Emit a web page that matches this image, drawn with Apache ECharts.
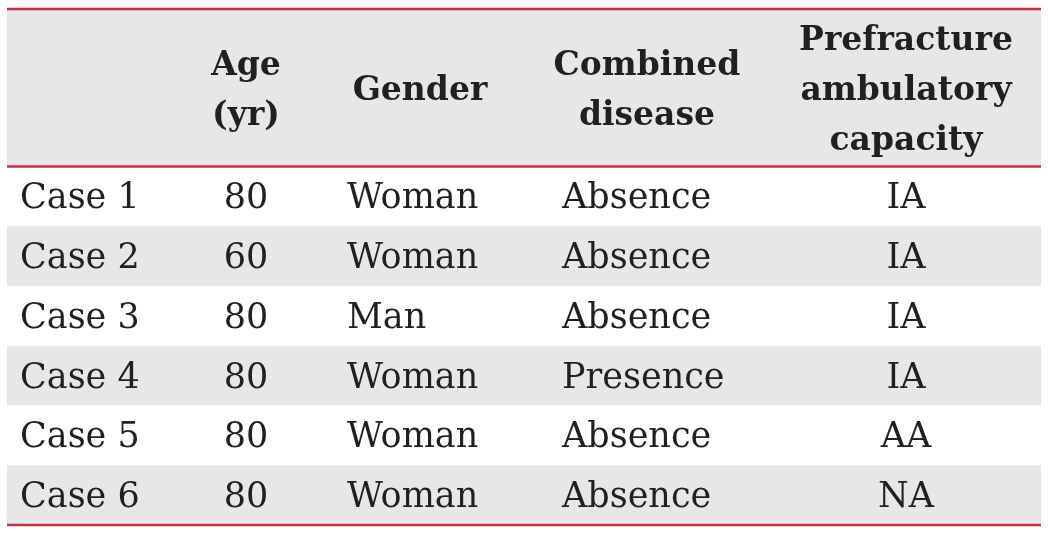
<!DOCTYPE html>
<html>
<head>
<meta charset="utf-8">
<script src="https://cdn.jsdelivr.net/npm/echarts@6/dist/echarts.min.js"></script>
<style>
html,body{margin:0;padding:0;background:#fff;}
#chart{width:1048px;height:533px;}
</style>
</head>
<body>
<div id="chart"></div>
<script>
// ---- data ----
const headers = ['', 'Age\n(yr)', 'Gender', 'Combined\ndisease', 'Prefracture\nambulatory\ncapacity'];
const cases = ['Case 1', 'Case 2', 'Case 3', 'Case 4', 'Case 5', 'Case 6'];
const ages = [80, 60, 80, 80, 80, 80];
const genders = ['Woman', 'Woman', 'Man', 'Woman', 'Woman', 'Woman'];
const diseases = ['Absence', 'Absence', 'Absence', 'Presence', 'Absence', 'Absence'];
const capacities = ['IA', 'IA', 'IA', 'IA', 'AA', 'NA'];

// ---- layout (x in axis units = px inside grid) ----
const XMAX = 1034;
const HEADER_UNITS = 2.65;
const headerX = [13, 239, 413, 640, 899];
const bodyCols = [
  {x: 13, align: 'left'},
  {x: 239, align: 'center'},
  {x: 340, align: 'left'},
  {x: 555, align: 'left'},
  {x: 899, align: 'center'}
];
const RED = '#c8323b';
const GRAY = '#e6e7e9';
const INK = '#231f20';
const FONT = '"DejaVu Serif", "Liberation Serif", serif';

const rows = cases.map((c, i) => [i, c, ages[i], genders[i], diseases[i], capacities[i]]);

const chart = echarts.init(document.getElementById('chart'));
chart.setOption({
  animation: false,
  grid: {left: 7, right: 7, top: 8, bottom: 8},
  xAxis: {type: 'value', min: 0, max: XMAX, show: false},
  yAxis: {type: 'value', min: -HEADER_UNITS, max: cases.length, inverse: true, show: false},
  series: [
    {
      type: 'custom',
      data: [[0]],
      renderItem: function (params, api) {
        const tl = api.coord([0, -HEADER_UNITS]);
        const br = api.coord([XMAX, 0]);
        const children = [
          {type: 'rect', shape: {x: tl[0], y: tl[1], width: br[0] - tl[0], height: br[1] - tl[1]}, style: {fill: GRAY}},
          {type: 'line', shape: {x1: tl[0], y1: tl[1] + 1, x2: br[0], y2: tl[1] + 1}, style: {stroke: RED, lineWidth: 2.5}},
          {type: 'line', shape: {x1: tl[0], y1: br[1], x2: br[0], y2: br[1]}, style: {stroke: RED, lineWidth: 2.5}}
        ];
        const cy = api.coord([0, -HEADER_UNITS / 2])[1] + 4;
        headers.forEach((h, k) => {
          if (!h) return;
          const p = api.coord([headerX[k], 0]);
          children.push({
            type: 'text',
            style: {
              x: p[0], y: cy, text: h, align: 'center', verticalAlign: 'middle',
              fill: INK, font: 'bold 33px ' + FONT, lineHeight: 50
            }
          });
        });
        return {type: 'group', children: children};
      }
    },
    {
      type: 'custom',
      data: rows,
      encode: {y: 0},
      renderItem: function (params, api) {
        const i = api.value(0);
        const tl = api.coord([0, i]);
        const br = api.coord([XMAX, i + 1]);
        const children = [];
        if (i % 2 === 1) {
          children.push({type: 'rect', shape: {x: tl[0], y: tl[1], width: br[0] - tl[0], height: br[1] - tl[1]}, style: {fill: GRAY}});
        }
        const cy = api.coord([0, i + 0.5])[1] + 3;
        const vals = rows[params.dataIndex].slice(1);
        vals.forEach((v, k) => {
          const p = api.coord([bodyCols[k].x, 0]);
          children.push({
            type: 'text',
            style: {
              x: p[0], y: cy, text: String(v), align: bodyCols[k].align, verticalAlign: 'middle',
              fill: INK, font: '35px ' + FONT
            }
          });
        });
        if (i === cases.length - 1) {
          children.push({type: 'line', shape: {x1: tl[0], y1: br[1], x2: br[0], y2: br[1]}, style: {stroke: RED, lineWidth: 2.5}});
        }
        return {type: 'group', children: children};
      }
    }
  ]
});
</script>
</body>
</html>
